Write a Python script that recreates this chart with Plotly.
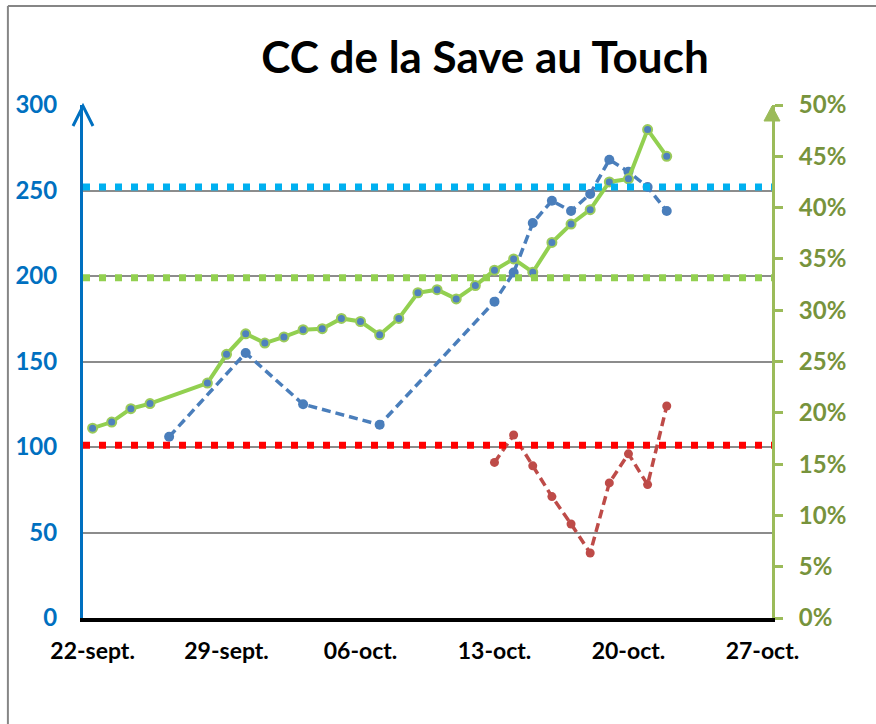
import plotly.graph_objects as go

# ---------------- data ----------------
green_dates = ["2013-09-22", "2013-09-23", "2013-09-24", "2013-09-25", "2013-09-28",
               "2013-09-29", "2013-09-30", "2013-10-01", "2013-10-02", "2013-10-03",
               "2013-10-04", "2013-10-05", "2013-10-06", "2013-10-07", "2013-10-08",
               "2013-10-09", "2013-10-10", "2013-10-11", "2013-10-12", "2013-10-13",
               "2013-10-14", "2013-10-15", "2013-10-16", "2013-10-17", "2013-10-18",
               "2013-10-19", "2013-10-20", "2013-10-21", "2013-10-22"]
green_pct = [0.185, 0.191, 0.204, 0.209, 0.229,
             0.257, 0.277, 0.268, 0.274, 0.281,
             0.282, 0.292, 0.289, 0.276, 0.292,
             0.317, 0.320, 0.311, 0.324, 0.339,
             0.350, 0.337, 0.366, 0.384, 0.398,
             0.425, 0.428, 0.476, 0.450]

blue_dates = ["2013-09-26", "2013-09-30", "2013-10-03", "2013-10-07", "2013-10-13",
              "2013-10-14", "2013-10-15", "2013-10-16", "2013-10-17", "2013-10-18",
              "2013-10-19", "2013-10-20", "2013-10-21", "2013-10-22"]
blue_vals = [106, 155, 125, 113, 185,
             202, 231, 244, 238, 248,
             268, 261, 252, 238]

red_dates = ["2013-10-13", "2013-10-14", "2013-10-15", "2013-10-16", "2013-10-17",
             "2013-10-18", "2013-10-19", "2013-10-20", "2013-10-21", "2013-10-22"]
red_vals = [91, 107, 89, 71, 55, 38, 79, 96, 78, 124]

threshold_vals = [252, 199, 101]
threshold_colors = ["#00B0F0", "#92D050", "#FF0000"]

tick_dates = ["2013-09-22", "2013-09-29", "2013-10-06", "2013-10-13", "2013-10-20", "2013-10-27"]
tick_labels = ["22-sept.", "29-sept.", "06-oct.", "13-oct.", "20-oct.", "27-oct."]

FONT = "Lato"

fig = go.Figure()

fig.add_trace(go.Scatter(
    x=green_dates, y=green_pct, yaxis="y2", mode="lines+markers",
    line=dict(color="#92D050", width=4),
    marker=dict(size=9, color="#4F81BD", line=dict(color="#9BCB5A", width=2)),
    showlegend=False))

fig.add_trace(go.Scatter(
    x=blue_dates, y=blue_vals, mode="lines+markers",
    line=dict(color="#4A7EBB", width=3.5, dash="9px,5px"),
    marker=dict(size=10, color="#4A7EBB"),
    showlegend=False))

fig.add_trace(go.Scatter(
    x=red_dates, y=red_vals, mode="lines+markers",
    line=dict(color="#BE4B48", width=3.5, dash="9px,5px"),
    marker=dict(size=9, color="#BE4B48"),
    showlegend=False))

shapes = []
for v, c in zip(threshold_vals, threshold_colors):
    shapes.append(dict(type="line", xref="paper", x0=0, x1=1, yref="y", y0=v, y1=v,
                       line=dict(color=c, width=7, dash="7px,9px"), layer="above"))

# axis arrows
shapes.append(dict(type="path", xref="paper", yref="paper", xsizemode="pixel", ysizemode="pixel",
                   xanchor=0, yanchor=1, path="M -10,-21 L 0,-1 L 10,-21",
                   line=dict(color="#0070C0", width=3)))
shapes.append(dict(type="path", xref="paper", yref="paper", xsizemode="pixel", ysizemode="pixel",
                   xanchor=1, yanchor=1, path="M -8,-16 L 0,-1 L 8,-16 Z",
                   fillcolor="#9BBB59", line=dict(color="#9BBB59", width=1)))
# chart frame
shapes.append(dict(type="line", xref="paper", yref="paper", x0=-0.109, x1=1.2, y0=1.193, y1=1.193,
                   line=dict(color="#868686", width=2)))
shapes.append(dict(type="line", xref="paper", yref="paper", x0=-0.109, x1=-0.109, y0=1.193, y1=-0.3,
                   line=dict(color="#868686", width=2)))

fig.update_layout(
    width=876, height=724,
    margin=dict(l=83, r=104, t=105, b=106),
    paper_bgcolor="white", plot_bgcolor="white",
    title=dict(text="CC de la Save au Touch", x=485 / 876, xanchor="center",
               y=1 - 58 / 724, yanchor="middle",
               font=dict(family=FONT, size=44, color="black", weight="bold")),
    xaxis=dict(type="date", range=["2013-09-21 12:00", "2013-10-27 12:00"],
               tickvals=tick_dates, ticktext=tick_labels, showgrid=False, zeroline=False,
               showline=True, linecolor="black", linewidth=4, ticks="",
               ticklabelstandoff=9, automargin=False,
               tickfont=dict(family=FONT, size=23, color="black", weight="bold")),
    yaxis=dict(range=[0, 300], dtick=50, showgrid=True, gridcolor="#8C8C8C", gridwidth=2,
               zeroline=False, showline=True, linecolor="#0070C0", linewidth=3, ticks="",
               ticklabelstandoff=18, automargin=False,
               tickfont=dict(family=FONT, size=24, color="#0070C0", weight="bold")),
    yaxis2=dict(range=[0, 0.5], dtick=0.05, tickformat=".0%", overlaying="y", side="right",
                showgrid=False, zeroline=False, showline=True, linecolor="#9BBB59", linewidth=3,
                ticks="outside", ticklen=8, tickwidth=3, tickcolor="#9BBB59",
                ticklabelstandoff=11, automargin=False,
                tickfont=dict(family=FONT, size=24, color="#77933C", weight="bold")),
    shapes=shapes,
)

fig.write_html("out.html", config={"displayModeBar": False},
               post_script="document.body.style.margin='0px';document.body.style.overflow='hidden';")
